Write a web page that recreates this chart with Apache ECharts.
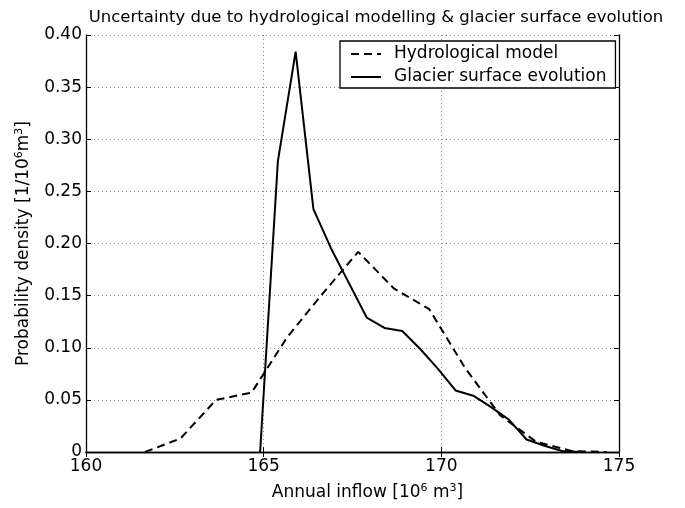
<!DOCTYPE html>
<html>
<head>
<meta charset="utf-8">
<script src="https://cdn.jsdelivr.net/npm/echarts@6/dist/echarts.min.js"></script>
<style>html,body{margin:0;padding:0;background:#fff;}#c{width:685px;height:508px;}</style>
</head>
<body>
<div id="c"></div>
<script>
// ---- data ----
const hydroX = [161.66, 162.66, 163.66, 164.66, 165.66, 166.66, 167.66, 168.66, 169.66, 170.66, 171.66, 172.66, 173.66, 174.66];
const hydroY = [0, 0.013, 0.050, 0.057, 0.110, 0.152, 0.192, 0.157, 0.137, 0.081, 0.035, 0.010, 0.001, 0];
const glacierX = [164.9, 165.4, 165.9, 166.4, 166.9, 167.4, 167.9, 168.4, 168.9, 169.4, 169.9, 170.4, 170.9, 171.4, 171.9, 172.4, 172.9, 173.4, 173.9];
const glacierY = [0, 0.279, 0.384, 0.233, 0.195, 0.162, 0.129, 0.119, 0.116, 0.099, 0.080, 0.059, 0.054, 0.043, 0.031, 0.012, 0.006, 0.001, 0];
const xTicks = [160, 165, 170, 175];
const yTicks = [0, 0.05, 0.10, 0.15, 0.20, 0.25, 0.30, 0.35, 0.40];
const yTickLabels = ['0', '0.05', '0.10', '0.15', '0.20', '0.25', '0.30', '0.35', '0.40'];
const seriesNames = ['Hydrological model', 'Glacier surface evolution'];
const titleText = 'Uncertainty due to hydrological modelling & glacier surface evolution';

const FONT = '"DejaVu Sans", "Liberation Sans", Arial, sans-serif';
const FS = 17;
const pair = (xs, ys) => xs.map((x, i) => [x, ys[i]]);

const chart = echarts.init(document.getElementById('c'));
const gridLine = { show: true, lineStyle: { color: '#8a8a8a', width: 1, type: [1, 3] } };
const axisLineBlack = { show: true, lineStyle: { color: '#000', width: 1.3 } };
const tickInside = { show: true, inside: true, length: 5, lineStyle: { color: '#000', width: 1 } };
const supRich = { sup: { fontFamily: FONT, fontSize: 11, color: '#000', verticalAlign: 'top', lineHeight: 20 } };

chart.setOption({
  animation: false,
  backgroundColor: '#fff',
  title: {
    text: titleText,
    left: 376, top: 9, padding: 0, textAlign: 'center',
    textStyle: { fontFamily: FONT, fontSize: 16.5, fontWeight: 'normal', color: '#000' }
  },
  grid: { left: 86, right: 66, top: 35, bottom: 53 },
  legend: {
    orient: 'vertical',
    left: 340, top: 41,
    padding: [3, 9, 1, 10],
    itemGap: 3,
    itemWidth: 30, itemHeight: 14,
    backgroundColor: '#fff',
    borderColor: '#000', borderWidth: 1.3,
    itemStyle: { color: 'rgba(0,0,0,0)', borderColor: 'rgba(0,0,0,0)', borderWidth: 0, opacity: 0 },
    textStyle: { fontFamily: FONT, fontSize: FS, color: '#000', lineHeight: 20, padding: [0, 0, 0, 8] },
    data: seriesNames
  },
  xAxis: [{
    type: 'value', min: 160, max: 175, interval: 5,
    name: 'Annual inflow [10{sup|6} m{sup|3}]',
    nameLocation: 'middle', nameGap: 31,
    nameTextStyle: { fontFamily: FONT, fontSize: FS, color: '#000', lineHeight: 20, padding: [0, 0, 0, 30], rich: supRich },
    axisLine: axisLineBlack, axisTick: tickInside,
    axisLabel: { fontFamily: FONT, fontSize: FS, color: '#000', margin: 6,
      formatter: v => xTicks.includes(v) ? String(v) : '' },
    splitLine: gridLine
  }, {
    type: 'value', min: 160, max: 175, interval: 5, position: 'top',
    axisLine: axisLineBlack, axisTick: tickInside, axisLabel: { show: false }, splitLine: { show: false }
  }],
  yAxis: [{
    type: 'value', min: 0, max: 0.4, interval: 0.05,
    name: 'Probability density [1/10{sup|6}m{sup|3}]',
    nameLocation: 'middle', nameGap: 47,
    nameTextStyle: { fontFamily: FONT, fontSize: FS, color: '#000', lineHeight: 20, rich: supRich },
    axisLine: axisLineBlack, axisTick: tickInside,
    axisLabel: { fontFamily: FONT, fontSize: FS, color: '#000', margin: 4,
      formatter: v => { const i = yTicks.findIndex(t => Math.abs(t - v) < 1e-9); return i >= 0 ? yTickLabels[i] : ''; } },
    splitLine: gridLine
  }, {
    type: 'value', min: 0, max: 0.4, interval: 0.05, position: 'right',
    axisLine: axisLineBlack, axisTick: tickInside, axisLabel: { show: false }, splitLine: { show: false }
  }],
  series: [{
    name: seriesNames[0], type: 'line', symbol: 'none', xAxisIndex: 0, yAxisIndex: 0,
    data: pair(hydroX, hydroY),
    lineStyle: { color: '#000', width: 2, type: [8, 5] }, itemStyle: { color: '#000' }
  }, {
    name: seriesNames[1], type: 'line', symbol: 'none', xAxisIndex: 0, yAxisIndex: 0,
    data: pair(glacierX, glacierY),
    lineStyle: { color: '#000', width: 2, type: 'solid' }, itemStyle: { color: '#000' }
  }]
});
</script>
</body>
</html>
